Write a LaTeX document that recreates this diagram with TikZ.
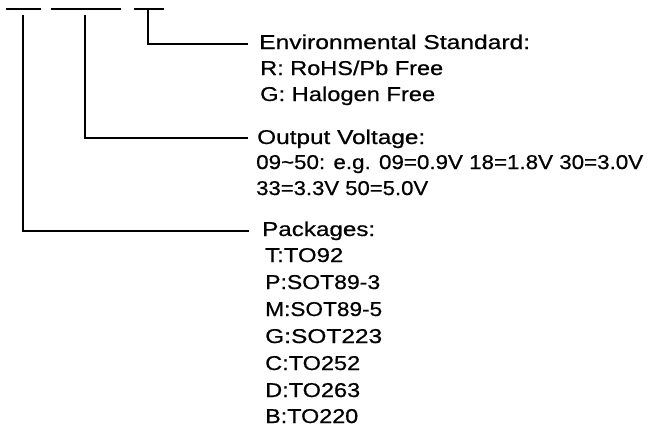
\documentclass[tikz,border=0pt]{standalone}
\usepackage{graphicx}
\usepackage{fontspec}
\setmainfont[FakeBold=0.6]{Liberation Sans}
\newcommand{\fitw}[2]{\resizebox{#1pt}{\height}{#2}}
\begin{document}
\begin{tikzpicture}[x=1pt,y=-1pt,
  wire/.style={line width=2.8pt,line cap=butt},
  lbl/.style={anchor=base west,inner sep=0pt,font=\fontsize{20}{23}\selectfont}]
\useasboundingbox (0,0) rectangle (650,431);
% top bars
\coordinate (b1l) at (6,9); \coordinate (b1r) at (41,9);
\coordinate (b2l) at (51,9); \coordinate (b2r) at (121,9);
\coordinate (b3l) at (134,9); \coordinate (b3r) at (164,9);
\draw[wire] (b1l) -- (b1r);
\draw[wire] (b2l) -- (b2r);
\draw[wire] (b3l) -- (b3r);
% connector starts and ends
\coordinate (s1) at (23,15); \coordinate (e1) at (249,231);
\coordinate (s2) at (85,15); \coordinate (e2) at (248,138);
\coordinate (s3) at (148,9); \coordinate (e3) at (248,44);
\draw[wire] (s3) |- (e3);
\draw[wire] (s2) |- (e2);
\draw[wire] (s1) |- (e1);
% texts
\node[lbl] (env) at (259,49) {\fitw{271}{Environmental Standard:}};
\node[lbl] (envr) at (260,75) {\fitw{183}{R: RoHS/Pb Free}};
\node[lbl] (envg) at (260,101) {\fitw{175}{G: Halogen Free}};
\node[lbl] (out) at (257,144) {\fitw{168}{Output Voltage:}};
\node[lbl] (out1) at (256,169) {\fitw{387}{09\textasciitilde50: e.g. 09=0.9V 18=1.8V 30=3.0V}};
\node[lbl] (out2) at (256,195) {\fitw{172}{33=3.3V 50=5.0V}};
\node[lbl] (pk) at (262,236) {\fitw{113}{Packages:}};
\node[lbl] (pkt) at (265,262) {\fitw{78}{T:TO92}};
\node[lbl] (pkp) at (265,289) {\fitw{115}{P:SOT89-3}};
\node[lbl] (pkm) at (265,316) {\fitw{117}{M:SOT89-5}};
\node[lbl] (pkg) at (265,343) {\fitw{117}{G:SOT223}};
\node[lbl] (pkc) at (265,370) {\fitw{95}{C:TO252}};
\node[lbl] (pkd) at (265,397) {\fitw{95}{D:TO263}};
\node[lbl] (pkb) at (265,423) {\fitw{93}{B:TO220}};
\end{tikzpicture}
\end{document}
